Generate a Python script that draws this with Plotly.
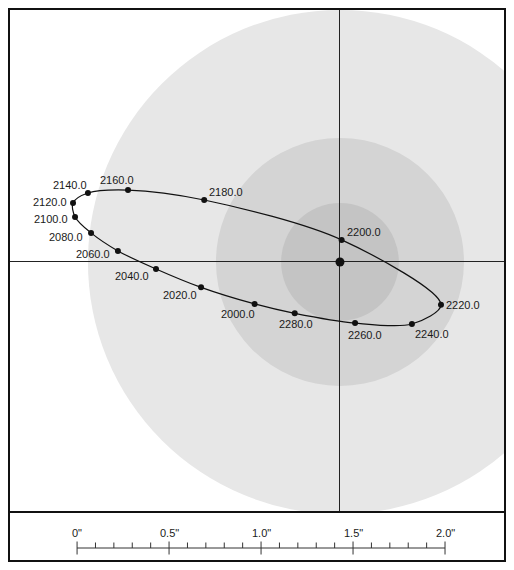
import plotly.graph_objects as go

# ---- data (inches, relative to primary star) ----
epochs = [2000, 2020, 2040, 2060, 2080, 2100, 2120, 2140, 2160, 2180, 2200, 2220, 2240, 2260, 2280]
orbit_x = [-0.464, -0.755, -1.000, -1.207, -1.353, -1.440, -1.451, -1.370, -1.152, -0.738, 0.009, 0.549, 0.391, 0.082, -0.246]
orbit_y = [-0.228, -0.138, -0.038, 0.060, 0.158, 0.245, 0.321, 0.375, 0.391, 0.337, 0.120, -0.232, -0.337, -0.332, -0.279]
# label offsets in pixels (dx right, dy down)
label_dx = [-17, -21, -24, -25, -25, -24, -23, -18, -11, 22, 22, 22, 20, 10, 1]
label_dy = [10, 8, 7, 3, 4, 2, -1, -8, -10, -8, -8, 0, 10, 12, 11]

circle_radii = [1.37, 0.674, 0.32]
circle_colors = ["#e7e7e7", "#d4d4d4", "#c4c4c4"]

scale_major = [0, 0.5, 1.0, 1.5, 2.0]
scale_labels = ['0"', '0.5"', '1.0"', '1.5"', '2.0"']
scale_minor = [i / 10 for i in range(21) if i % 5 != 0]

X_RANGE = [-1.799, 0.897]
Y_RANGE = [-1.359, 1.375]
X2_RANGE = [-0.370, 2.326]

FONT = "Liberation Sans, Arial, sans-serif"

W, H = 498, 554
ML, MR, MT, MB = 1, 1, 1, 1
PLOT_H = H - MT - MB
BOTTOM_PX = 49
SPLIT = BOTTOM_PX / PLOT_H

fig = go.Figure()

# orbit curve (closed smooth spline)
fig.add_trace(go.Scatter(
    x=orbit_x + [orbit_x[0]], y=orbit_y + [orbit_y[0]],
    mode="lines", line=dict(color="#111111", width=1.2, shape="spline", smoothing=0.9),
    hoverinfo="skip", showlegend=False, xaxis="x", yaxis="y"))

# epoch dots
fig.add_trace(go.Scatter(
    x=orbit_x, y=orbit_y, mode="markers",
    marker=dict(color="#111111", size=6),
    text=[f"{e:.1f}" for e in epochs], showlegend=False, xaxis="x", yaxis="y"))

# primary star
fig.add_trace(go.Scatter(
    x=[0], y=[0], mode="markers", marker=dict(color="#111111", size=9),
    showlegend=False, xaxis="x", yaxis="y"))

annotations = []
for e, x, y, dx, dy in zip(epochs, orbit_x, orbit_y, label_dx, label_dy):
    annotations.append(dict(
        x=x, y=y, xref="x", yref="y", text=f"{e:.1f}", showarrow=False,
        xshift=dx, yshift=-dy, font=dict(family=FONT, size=11, color="#1a1a1a")))

shapes = []
for r, c in zip(circle_radii, circle_colors):
    shapes.append(dict(type="circle", xref="x", yref="y", x0=-r, x1=r, y0=-r, y1=r,
                       fillcolor=c, line=dict(width=0), layer="below"))
# frame
shapes.append(dict(type="rect", xref="paper", yref="paper", x0=0, x1=1, y0=0, y1=1,
                   line=dict(color="#111111", width=2), layer="above"))
shapes.append(dict(type="line", xref="paper", yref="paper", x0=0, x1=1, y0=SPLIT, y1=SPLIT,
                   line=dict(color="#111111", width=2), layer="above"))

# ---- scale bar (bottom panel) ----
LINE_Y = 13
bar_x, bar_y = [scale_major[0], scale_major[-1]], [LINE_Y, LINE_Y]
for v in scale_major:
    bar_x += [None, v, v]
    bar_y += [None, LINE_Y - 6.5, LINE_Y + 6.5]
for v in scale_minor:
    bar_x += [None, v, v]
    bar_y += [None, LINE_Y, LINE_Y + 5.5]
fig.add_trace(go.Scatter(x=bar_x, y=bar_y, mode="lines",
                         line=dict(color="#333333", width=1), hoverinfo="skip",
                         showlegend=False, xaxis="x2", yaxis="y2"))
for v, lab in zip(scale_major, scale_labels):
    annotations.append(dict(x=v, y=28, xref="x2", yref="y2", text=lab, showarrow=False,
                            font=dict(family=FONT, size=11, color="#1a1a1a")))

axis_common = dict(showgrid=False, showticklabels=False, ticks="", showline=False)

fig.update_layout(
    width=W, height=H,
    margin=dict(l=ML, r=MR, t=MT, b=MB),
    paper_bgcolor="white", plot_bgcolor="white",
    xaxis=dict(domain=[0, 1], range=X_RANGE, anchor="y", zeroline=True,
               zerolinecolor="#222222", zerolinewidth=1, **axis_common),
    yaxis=dict(domain=[SPLIT, 1], range=Y_RANGE, anchor="x", zeroline=True,
               zerolinecolor="#222222", zerolinewidth=1, **axis_common),
    xaxis2=dict(domain=[0, 1], range=X2_RANGE, anchor="y2", zeroline=False, **axis_common),
    yaxis2=dict(domain=[0, SPLIT], range=[0, BOTTOM_PX], anchor="x2", zeroline=False, **axis_common),
    shapes=shapes, annotations=annotations, showlegend=False,
)

fig.write_html("out.html")
